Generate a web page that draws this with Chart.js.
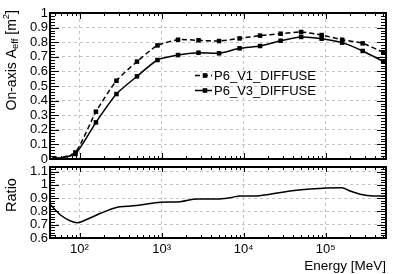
<!DOCTYPE html>
<html><head><meta charset="utf-8">
<script src="https://cdn.jsdelivr.net/npm/chart.js@4/dist/chart.umd.min.js"></script>
<style>
html,body{margin:0;padding:0;background:#fff;}
#wrap{position:relative;width:399px;height:274px;overflow:hidden;}
canvas{position:absolute;left:0;top:0;}
</style></head><body>
<div id="wrap"><canvas id="topc" width="399" height="274"></canvas><canvas id="botc" width="399" height="274"></canvas></div>
<script>
// ---- data ----
const energies = [50.1, 89.1, 158.5, 281.8, 501.2, 891.3, 1585, 2818, 5012, 8913, 15849, 28184, 50119, 89125, 158489, 281838, 501187];
const aeffV1 = [0.0, 0.045, 0.324, 0.536, 0.667, 0.778, 0.817, 0.813, 0.808, 0.826, 0.845, 0.858, 0.870, 0.849, 0.817, 0.792, 0.731];
const aeffV3 = [0.0, 0.035, 0.251, 0.445, 0.566, 0.678, 0.712, 0.728, 0.724, 0.758, 0.774, 0.810, 0.836, 0.824, 0.797, 0.740, 0.669];
const ratioEnergies = [43.7, 58.7, 77.8, 93.8, 124, 180, 288, 380, 552, 966, 1694, 2704, 4732, 6872, 9095, 14520, 21090, 36900, 64600, 103000, 157000, 198000, 262000, 380000, 542000];
const ratioValues = [0.854, 0.773, 0.728, 0.715, 0.741, 0.786, 0.832, 0.839, 0.849, 0.869, 0.874, 0.894, 0.894, 0.904, 0.917, 0.917, 0.930, 0.954, 0.969, 0.977, 0.979, 0.954, 0.930, 0.917, 0.917];
const seriesNames = ['P6_V1_DIFFUSE', 'P6_V3_DIFFUSE'];
const xDecades = [100, 1000, 10000, 100000];
const xTickLabels = ['10\u00B2', '10\u00B3', '10\u2074', '10\u2075'];
const aeffTicks = [0, 0.1, 0.2, 0.3, 0.4, 0.5, 0.6, 0.7, 0.8, 0.9, 1.0];
const aeffTickLabels = ['0', '0.1', '0.2', '0.3', '0.4', '0.5', '0.6', '0.7', '0.8', '0.9', '1'];
const ratioTicks = [0.6, 0.7, 0.8, 0.9, 1.0, 1.1];
const ratioTickLabels = ['0.6', '0.7', '0.8', '0.9', '1', '1.1'];

const FONT = 'Liberation Sans, Arial, Helvetica, sans-serif';
const X_MIN = 43.7, X_MAX = 542000;

function frameTicks(o) {
  return {
    id: 'frameTicks',
    afterDatasetsDraw(chart) {
      const {ctx, chartArea: a, scales: {x, y}} = chart;
      ctx.save();
      ctx.strokeStyle = '#000';
      ctx.lineWidth = 1;
      ctx.setLineDash([]);
      ctx.beginPath();
      for (let d = 1; d <= 6; d++) {
        for (let m = 1; m <= 9; m++) {
          const v = m * Math.pow(10, d);
          if (v < x.min || v > x.max) continue;
          const px = Math.round(x.getPixelForValue(v)) + 0.5;
          const len = m === 1 ? o.xMajor : o.xMinor;
          ctx.moveTo(px, a.bottom); ctx.lineTo(px, a.bottom - len);
          ctx.moveTo(px, a.top); ctx.lineTo(px, a.top + len);
        }
      }
      const i0 = Math.ceil(y.min / 0.02 - 1e-6), i1 = Math.floor(y.max / 0.02 + 1e-6);
      for (let i = i0; i <= i1; i++) {
        const py = Math.round(y.getPixelForValue(i * 0.02)) + 0.5;
        const len = (i % 5 === 0) ? o.yMajor : o.yMinor;
        ctx.moveTo(a.left, py); ctx.lineTo(a.left + len, py);
        ctx.moveTo(a.right, py); ctx.lineTo(a.right - len, py);
      }
      ctx.stroke();
      ctx.lineWidth = 2;
      ctx.strokeRect(a.left, a.top, a.right - a.left, a.bottom - a.top);
      ctx.restore();
    }
  };
}

function yTitle(parts, cx, topEnd, centerY) {
  return {
    id: 'yTitle',
    afterDraw(chart) {
      const ctx = chart.ctx;
      ctx.save();
      ctx.fillStyle = '#000';
      ctx.textBaseline = 'middle';
      let total = 0;
      for (const p of parts) { ctx.font = p.size + 'px ' + FONT; total += ctx.measureText(p.t).width; }
      const startY = centerY != null ? centerY + total / 2 : topEnd + total;
      ctx.translate(cx, startY);
      ctx.rotate(-Math.PI / 2);
      let lx = 0;
      for (const p of parts) {
        ctx.font = p.size + 'px ' + FONT;
        ctx.fillText(p.t, lx, p.dy || 0);
        lx += ctx.measureText(p.t).width;
      }
      ctx.restore();
    }
  };
}

const legendPlugin = {
  id: 'customLegend',
  afterDraw(chart) {
    const ctx = chart.ctx;
    const rows = [75, 90];
    chart.data.datasets.forEach((ds, i) => {
      const yy = rows[i];
      ctx.save();
      ctx.strokeStyle = '#000';
      ctx.lineWidth = ds.borderWidth;
      ctx.setLineDash(ds.borderDash || []);
      ctx.beginPath(); ctx.moveTo(195, yy + 0.5); ctx.lineTo(212, yy + 0.5); ctx.stroke();
      ctx.setLineDash([]);
      ctx.fillStyle = '#000';
      ctx.fillRect(205 - 2.3, yy + 0.5 - 2.3, 4.6, 4.6);
      ctx.font = '13px ' + FONT;
      ctx.textBaseline = 'middle';
      ctx.fillText(ds.label, 214, yy + 1);
      ctx.restore();
    });
  }
};

const gridStyle = {color: '#c4c4c4', lineWidth: 1, drawTicks: false, tickLength: 0};
const borderStyle = {display: false, dash: [3, 3]};

function xScale(showLabels, h) {
  return {
    type: 'logarithmic', min: X_MIN, max: X_MAX,
    grid: gridStyle, border: borderStyle,
    afterBuildTicks: s => { s.ticks = xDecades.map(v => ({value: v})); },
    afterFit: s => { s.height = h; },
    ticks: {
      display: showLabels, autoSkip: false, maxRotation: 0, padding: 4,
      color: '#000', font: {family: FONT, size: 13},
      callback: (v, i) => xTickLabels[i]
    },
    title: showLabels ? {display: true, text: 'Energy [MeV]', align: 'end', color: '#000', font: {family: FONT, size: 13.5}, padding: 0} : {display: false}
  };
}

function yScale(min, max, tickVals, tickLabels) {
  return {
    min: min, max: max,
    grid: gridStyle, border: borderStyle,
    afterBuildTicks: s => { s.ticks = tickVals.map(v => ({value: v})); },
    afterFit: s => { s.width = 50; },
    ticks: {
      autoSkip: false, padding: 2, color: '#000', font: {family: FONT, size: 13},
      callback: (v, i) => tickLabels[i]
    }
  };
}

const common = {
  responsive: false, animation: false, devicePixelRatio: 1, events: [],
  plugins: {legend: {display: false}, tooltip: {enabled: false}}
};

new Chart(document.getElementById('topc'), {
  type: 'line',
  data: {
    datasets: [
      {label: seriesNames[0], data: energies.map((e, i) => ({x: e, y: aeffV1[i]})),
       borderColor: '#000', borderWidth: 1.5, borderDash: [5, 3], tension: 0.2,
       pointStyle: 'rect', pointRadius: 3.2, pointBackgroundColor: '#000', pointBorderColor: '#000', pointBorderWidth: 0},
      {label: seriesNames[1], data: energies.map((e, i) => ({x: e, y: aeffV3[i]})),
       borderColor: '#000', borderWidth: 1.5, tension: 0.2,
       pointStyle: 'rect', pointRadius: 3.2, pointBackgroundColor: '#000', pointBorderColor: '#000', pointBorderWidth: 0}
    ]
  },
  options: Object.assign({}, common, {
    layout: {padding: {left: 0, top: 13, right: 13, bottom: 0}},
    scales: {x: xScale(false, 115), y: yScale(0, 1, aeffTicks, aeffTickLabels)}
  }),
  plugins: [frameTicks({xMajor: 6, xMinor: 3, yMajor: 9, yMinor: 5}), legendPlugin,
    yTitle([{t: 'On-axis A', size: 14}, {t: 'eff', size: 9.5, dy: 3.5}, {t: ' [m', size: 14}, {t: '2', size: 9.5, dy: -5.5}, {t: ']', size: 14}], 12, 10, null)]
});

new Chart(document.getElementById('botc'), {
  type: 'line',
  data: {
    datasets: [
      {label: 'Ratio', data: ratioEnergies.map((e, i) => ({x: e, y: ratioValues[i]})),
       borderColor: '#000', borderWidth: 1.5, pointRadius: 0, cubicInterpolationMode: 'monotone'}
    ]
  },
  options: Object.assign({}, common, {
    layout: {padding: {left: 0, top: 167, right: 13, bottom: 0}},
    scales: {x: xScale(true, 36), y: yScale(0.6, 1.135, ratioTicks, ratioTickLabels)}
  }),
  plugins: [frameTicks({xMajor: 5, xMinor: 3, yMajor: 9, yMinor: 5}),
    yTitle([{t: 'Ratio', size: 14.5}], 12, null, 195)]
});
</script>
</body></html>
